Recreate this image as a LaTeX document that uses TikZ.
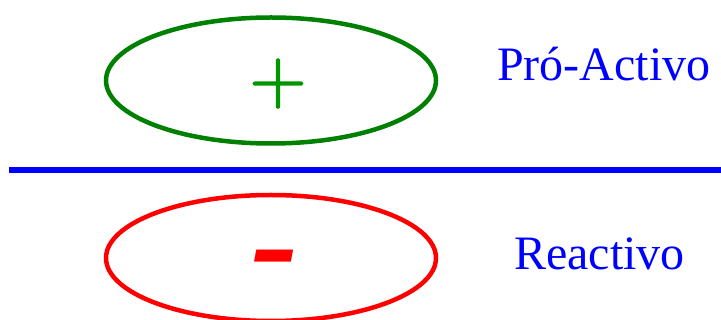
\documentclass[tikz,border=0pt]{standalone}
\usepackage{fontspec}
\setmainfont{Liberation Serif}
\newfontfamily\lmfont[FakeBold=2]{Latin Modern Roman}
\usetikzlibrary{shapes.geometric}
\definecolor{ovgreen}{RGB}{0,128,0}
\definecolor{plgreen}{RGB}{0,150,0}
\definecolor{ovred}{RGB}{255,0,0}
\definecolor{lblue}{RGB}{0,0,255}
\tikzset{
  oval/.style={ellipse, draw, line width=4.5pt, minimum width=330pt, minimum height=126pt, inner sep=0pt},
  lbl/.style={text=lblue, anchor=base west, inner sep=0pt, font=\fontsize{48pt}{52pt}\selectfont},
  sign/.style={anchor=base, inner sep=0pt}
}
\begin{document}
\begin{tikzpicture}[x=1pt,y=-1pt]
\useasboundingbox (0,0) rectangle (721,320);
\node[oval, ovgreen] (pro) at (271,80.5) {};
\node[oval, ovred] (rea) at (271,258) {};
\node[sign, text=plgreen, font=\lmfont\fontsize{78pt}{82pt}\selectfont] (plus) at (278,103) {+};
\node[sign, text=ovred, font=\fontsize{142pt}{150pt}\selectfont\bfseries\itshape] (minus) at (275.5,290) {-};
\node[lbl] (tpro) at (497,81) {Pró-Activo};
\node[lbl] (trea) at (514,270) {Reactivo};
\coordinate (la) at (9,170);
\coordinate (lb) at (721,170);
\draw[lblue, line width=5.5pt] (la) -- (lb);
\end{tikzpicture}
\end{document}
